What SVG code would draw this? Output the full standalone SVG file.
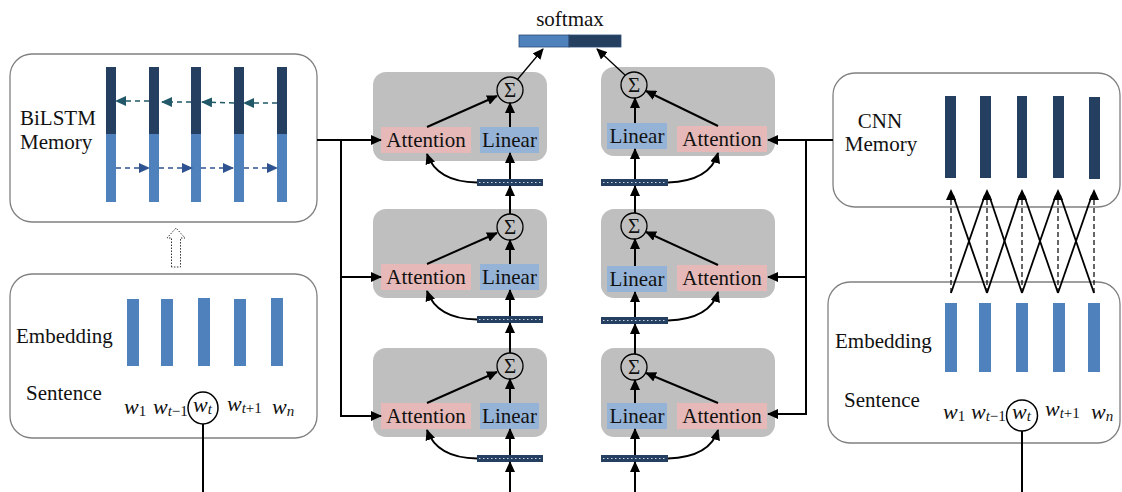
<svg xmlns="http://www.w3.org/2000/svg" width="1122" height="492" viewBox="0 0 1122 492">
<defs>
<marker id="ah" markerUnits="userSpaceOnUse" markerWidth="11" markerHeight="10" refX="10" refY="5" orient="auto"><path d="M0,0 L11,5 L0,10 z" fill="#000"/></marker>
<marker id="ahTeal" markerUnits="userSpaceOnUse" markerWidth="11" markerHeight="10" refX="10" refY="5" orient="auto"><path d="M0,0 L11,5 L0,10 z" fill="#215968"/></marker>
<marker id="ahBlue" markerUnits="userSpaceOnUse" markerWidth="11" markerHeight="10" refX="10" refY="5" orient="auto"><path d="M0,0 L11,5 L0,10 z" fill="#2f5290"/></marker>
<style>
.t{font-family:"Liberation Serif","Times New Roman",serif;font-size:21px;fill:#111}
.w{font-family:"Liberation Serif","Times New Roman",serif;font-size:22px;font-style:italic;fill:#111}
.s{font-size:15px}
.up{font-style:normal}
.panel{fill:#fff;stroke:#808080;stroke-width:1.3}
.mod{fill:#bfbfbf}
.att{fill:#e6b9b8}
.lin{fill:#95b3d7}
.dark{fill:#243f60}
.light{fill:#4f81bd}
.sig{fill:none;stroke:#000;stroke-width:1.3}
.ln{fill:none;stroke:#000;stroke-width:2}
.thin{fill:none;stroke:#000;stroke-width:1.3}
.dots{stroke:#c8d4e6;stroke-width:1;stroke-dasharray:1.5 2.5}
</style>
</defs>

<g id="softmax">
<text class="t" x="570" y="26" text-anchor="middle">softmax</text>
<rect x="519" y="35" width="50" height="12" class="light" stroke="#2b4b75" stroke-width="0.8"/>
<rect x="569" y="35" width="52" height="12" class="dark" stroke="#2b4b75" stroke-width="0.8"/>
</g>

<g id="bilstm-memory">
<rect x="10" y="54" width="307" height="168" rx="22" class="panel"/>
<text class="t" x="20" y="125">BiLSTM</text>
<text class="t" x="20" y="149">Memory</text>
<rect x="106" y="67" width="10" height="67" class="dark"/><rect x="106" y="134" width="10" height="68" class="light"/>
<rect x="149" y="67" width="10" height="67" class="dark"/><rect x="149" y="134" width="10" height="68" class="light"/>
<rect x="191" y="67" width="10" height="67" class="dark"/><rect x="191" y="134" width="10" height="68" class="light"/>
<rect x="234" y="67" width="10" height="67" class="dark"/><rect x="234" y="134" width="10" height="68" class="light"/>
<rect x="277" y="67" width="10" height="67" class="dark"/><rect x="277" y="134" width="10" height="68" class="light"/>
<g fill="none" stroke="#215968" stroke-width="1.5" stroke-dasharray="5 4" marker-end="url(#ahTeal)">
<path d="M277,103 L244,103"/><path d="M234,103 L202,102"/><path d="M191,102 L162,102"/><path d="M149,101 L116,101"/>
</g>
<g fill="none" stroke="#2f5290" stroke-width="1.5" stroke-dasharray="5 4" marker-end="url(#ahBlue)">
<path d="M116,168 L149,168"/><path d="M159,168 L192,168"/><path d="M201,168 L233,168"/><path d="M244,168 L277,168"/>
</g>
</g>

<g id="hollow-arrow">
<path d="M171.5,267 L171.5,238 L167,238 L176,228 L185,238 L180.5,238 L180.5,267 Z" fill="#fff" stroke="#333" stroke-width="1" stroke-dasharray="1.5 1.5"/>
</g>

<g id="left-embedding">
<rect x="10" y="274" width="307" height="164" rx="22" class="panel"/>
<text class="t" x="16" y="343">Embedding</text>
<text class="t" x="26" y="400">Sentence</text>
<rect x="127" y="299" width="12" height="67" class="light"/>
<rect x="161" y="299" width="12" height="67" class="light"/>
<rect x="198" y="298" width="12" height="68" class="light"/>
<rect x="234" y="299" width="12" height="67" class="light"/>
<rect x="271" y="298" width="12" height="68" class="light"/>
<text class="w" x="124" y="414">w<tspan class="s up" dy="2">1</tspan></text>
<text class="w" x="153" y="414">w<tspan class="s" dy="2">t</tspan><tspan class="s up">−1</tspan></text>
<ellipse cx="203" cy="408" rx="15" ry="16" fill="none" stroke="#000" stroke-width="1.5"/>
<text class="w" x="193" y="412">w<tspan class="s" dy="2">t</tspan></text>
<text class="w" x="227" y="411">w<tspan class="s" dy="2">t</tspan><tspan class="s up">+1</tspan></text>
<text class="w" x="272" y="414">w<tspan class="s" dy="2">n</tspan></text>
</g>

<g id="cnn-memory">
<rect x="833" y="73" width="287" height="134" rx="22" class="panel"/>
<text class="t" x="880" y="128" text-anchor="middle">CNN</text>
<text class="t" x="881" y="151" text-anchor="middle">Memory</text>
<rect x="945" y="96" width="11" height="82" class="dark"/>
<rect x="980" y="96" width="11" height="82" class="dark"/>
<rect x="1017" y="96" width="10" height="82" class="dark"/>
<rect x="1053" y="96" width="11" height="82" class="dark"/>
<rect x="1089" y="97" width="11" height="82" class="dark"/>
</g>

<g id="right-embedding">
<rect x="828" y="282" width="292" height="161" rx="22" class="panel"/>
<text class="t" x="835" y="348">Embedding</text>
<text class="t" x="844" y="407">Sentence</text>
<rect x="945" y="303" width="12" height="69" class="light"/>
<rect x="979" y="303" width="12" height="69" class="light"/>
<rect x="1016" y="303" width="12" height="69" class="light"/>
<rect x="1053" y="303" width="12" height="69" class="light"/>
<rect x="1088" y="303" width="12" height="69" class="light"/>
<text class="w" x="943" y="419">w<tspan class="s up" dy="2">1</tspan></text>
<text class="w" x="971" y="419">w<tspan class="s" dy="2">t</tspan><tspan class="s up">−1</tspan></text>
<ellipse cx="1022" cy="415.5" rx="15.5" ry="15.5" fill="none" stroke="#000" stroke-width="1.5"/>
<text class="w" x="1012" y="419">w<tspan class="s" dy="2">t</tspan></text>
<text class="w" x="1045" y="416">w<tspan class="s" dy="2">t</tspan><tspan class="s up">+1</tspan></text>
<text class="w" x="1091" y="419">w<tspan class="s" dy="2">n</tspan></text>
</g>

<g id="left-module-1">
<rect x="373" y="72" width="174" height="89" rx="13" class="mod"/>
<rect x="381" y="127" width="90" height="26" class="att"/><text class="t" x="426" y="147" text-anchor="middle">Attention</text>
<rect x="480" y="127" width="59" height="26" class="lin"/><text class="t" x="509.5" y="147" text-anchor="middle">Linear</text>
<circle cx="510" cy="90" r="13" class="sig"/><text class="t" x="510" y="97" text-anchor="middle" font-size="19">Σ</text>
</g>
<g id="left-module-2">
<rect x="373" y="209" width="174" height="89" rx="13" class="mod"/>
<rect x="381" y="264" width="90" height="26" class="att"/><text class="t" x="426" y="284" text-anchor="middle">Attention</text>
<rect x="480" y="264" width="59" height="26" class="lin"/><text class="t" x="509.5" y="284" text-anchor="middle">Linear</text>
<circle cx="510" cy="227" r="13" class="sig"/><text class="t" x="510" y="234" text-anchor="middle" font-size="19">Σ</text>
</g>
<g id="left-module-3">
<rect x="373" y="348" width="174" height="89" rx="13" class="mod"/>
<rect x="381" y="403" width="90" height="26" class="att"/><text class="t" x="426" y="423" text-anchor="middle">Attention</text>
<rect x="480" y="403" width="59" height="26" class="lin"/><text class="t" x="509.5" y="423" text-anchor="middle">Linear</text>
<circle cx="510" cy="366" r="13" class="sig"/><text class="t" x="510" y="373" text-anchor="middle" font-size="19">Σ</text>
</g>
<g id="left-states">
<rect x="477" y="179" width="66" height="7" class="dark"/><line x1="479" y1="182.5" x2="542" y2="182.5" class="dots"/>
<rect x="477" y="316" width="66" height="7" class="dark"/><line x1="479" y1="319.5" x2="542" y2="319.5" class="dots"/>
<rect x="477" y="455" width="66" height="7" class="dark"/><line x1="479" y1="458.5" x2="542" y2="458.5" class="dots"/>
</g>

<g id="right-module-1">
<rect x="601" y="67" width="174" height="89" rx="13" class="mod"/>
<rect x="607" y="123" width="60" height="26" class="lin"/><text class="t" x="637" y="143" text-anchor="middle">Linear</text>
<rect x="677" y="126" width="90" height="26" class="att"/><text class="t" x="722" y="146" text-anchor="middle">Attention</text>
<circle cx="634" cy="85" r="13" class="sig"/><text class="t" x="634" y="92" text-anchor="middle" font-size="19">Σ</text>
</g>
<g id="right-module-2">
<rect x="601" y="209" width="174" height="89" rx="13" class="mod"/>
<rect x="607" y="266" width="60" height="26" class="lin"/><text class="t" x="637" y="286" text-anchor="middle">Linear</text>
<rect x="677" y="265" width="90" height="26" class="att"/><text class="t" x="722" y="285" text-anchor="middle">Attention</text>
<circle cx="634" cy="226" r="13" class="sig"/><text class="t" x="634" y="233" text-anchor="middle" font-size="19">Σ</text>
</g>
<g id="right-module-3">
<rect x="601" y="348" width="174" height="89" rx="13" class="mod"/>
<rect x="607" y="403" width="60" height="26" class="lin"/><text class="t" x="637" y="423" text-anchor="middle">Linear</text>
<rect x="677" y="403" width="90" height="26" class="att"/><text class="t" x="722" y="423" text-anchor="middle">Attention</text>
<circle cx="634" cy="367" r="13" class="sig"/><text class="t" x="634" y="374" text-anchor="middle" font-size="19">Σ</text>
</g>
<g id="right-states">
<rect x="601" y="179" width="67" height="7" class="dark"/><line x1="603" y1="182.5" x2="666" y2="182.5" class="dots"/>
<rect x="601" y="317" width="67" height="7" class="dark"/><line x1="603" y1="320.5" x2="666" y2="320.5" class="dots"/>
<rect x="601" y="455" width="67" height="7" class="dark"/><line x1="603" y1="458.5" x2="666" y2="458.5" class="dots"/>
</g>

<g id="connectors">
<path d="M517,80 L543,49" class="thin" marker-end="url(#ah)"/>
<path d="M625,75 L597,49" class="thin" marker-end="url(#ah)"/>
<path d="M317,140 L381,140" class="ln" marker-end="url(#ah)"/>
<path d="M341,140 L341,416 L381,416" class="ln" marker-end="url(#ah)"/>
<path d="M341,277 L381,277" class="ln" marker-end="url(#ah)"/>
<path d="M833,140 L768,140" class="ln" marker-end="url(#ah)"/>
<path d="M806,140 L806,414 L768,414" class="ln" marker-end="url(#ah)"/>
<path d="M806,277 L768,277" class="ln" marker-end="url(#ah)"/>
<path d="M510,492 L510,462" class="ln" marker-end="url(#ah)"/>
<path d="M510,455 L510,429" class="ln" marker-end="url(#ah)"/>
<path d="M510,403 L510,379" class="ln" marker-end="url(#ah)"/>
<path d="M427,403 L497,372" class="ln" marker-end="url(#ah)"/>
<path d="M477,458.5 Q437,458 427,430" class="ln" marker-end="url(#ah)"/>
<path d="M510,353 L510,323" class="ln" marker-end="url(#ah)"/>
<path d="M510,316 L510,290" class="ln" marker-end="url(#ah)"/>
<path d="M510,264 L510,240" class="ln" marker-end="url(#ah)"/>
<path d="M427,264 L497,233" class="ln" marker-end="url(#ah)"/>
<path d="M477,319.5 Q437,319 427,291" class="ln" marker-end="url(#ah)"/>
<path d="M510,214 L510,186" class="ln" marker-end="url(#ah)"/>
<path d="M510,179 L510,153" class="ln" marker-end="url(#ah)"/>
<path d="M510,127 L510,103" class="ln" marker-end="url(#ah)"/>
<path d="M427,127 L497,96" class="ln" marker-end="url(#ah)"/>
<path d="M477,182.5 Q437,182 427,154" class="ln" marker-end="url(#ah)"/>
<path d="M635,492 L635,462" class="ln" marker-end="url(#ah)"/>
<path d="M635,455 L635,429" class="ln" marker-end="url(#ah)"/>
<path d="M635,403 L635,380" class="ln" marker-end="url(#ah)"/>
<path d="M718,403 L646,373" class="ln" marker-end="url(#ah)"/>
<path d="M668,458.5 Q710,457 718,430" class="ln" marker-end="url(#ah)"/>
<path d="M635,354 L635,324" class="ln" marker-end="url(#ah)"/>
<path d="M635,317 L635,292" class="ln" marker-end="url(#ah)"/>
<path d="M635,266 L635,239" class="ln" marker-end="url(#ah)"/>
<path d="M718,265 L646,232" class="ln" marker-end="url(#ah)"/>
<path d="M668,320.5 Q710,319 718,292" class="ln" marker-end="url(#ah)"/>
<path d="M635,213 L635,186" class="ln" marker-end="url(#ah)"/>
<path d="M635,179 L635,149" class="ln" marker-end="url(#ah)"/>
<path d="M635,123 L635,98" class="ln" marker-end="url(#ah)"/>
<path d="M718,126 L646,91" class="ln" marker-end="url(#ah)"/>
<path d="M668,182.5 Q710,181 718,153" class="ln" marker-end="url(#ah)"/>
<path d="M203,424 L203,492" class="ln"/>
<path d="M1022,431 L1022,492" class="ln"/>
<g fill="none" stroke="#000" stroke-width="1.2" stroke-dasharray="5 3">
<path d="M951,293 L951,195"/><path d="M987,293 L987,195"/><path d="M1022,293 L1022,195"/><path d="M1058,293 L1058,195"/><path d="M1094,293 L1094,195"/>
</g>
<g fill="none" stroke="#000" stroke-width="1.8">
<path d="M951,293 L985,195"/><path d="M987,293 L953,195"/>
<path d="M987,293 L1020,195"/><path d="M1022,293 L989,195"/>
<path d="M1022,293 L1056,195"/><path d="M1058,293 L1024,195"/>
<path d="M1058,293 L1092,195"/><path d="M1094,293 L1060,195"/>
</g>
<g fill="#000">
<path d="M951,189 L946,200 L956,200 z"/><path d="M987,189 L982,200 L992,200 z"/><path d="M1022,189 L1017,200 L1027,200 z"/><path d="M1058,189 L1053,200 L1063,200 z"/><path d="M1094,189 L1089,200 L1099,200 z"/>
</g>
</g>
</svg>
